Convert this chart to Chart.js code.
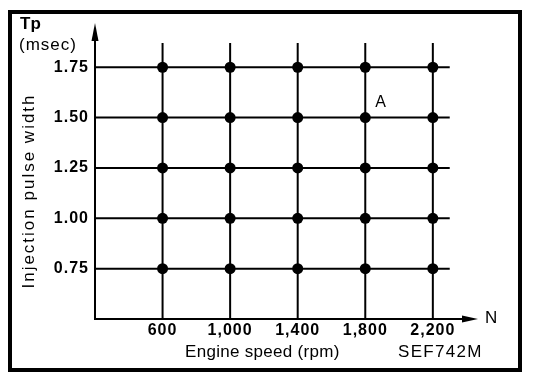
<!DOCTYPE html>
<html><head><meta charset="utf-8">
<script src="https://cdn.jsdelivr.net/npm/chart.js@4/dist/chart.umd.min.js"></script>
<style>html,body{margin:0;padding:0;background:#fff}#wrap{width:560px;height:386px;position:relative}</style>
</head><body><div id="wrap"><canvas id="c" width="560" height="386"></canvas></div>
<script>
// ---- data ----
const engineSpeeds = [600, 1000, 1400, 1800, 2200];          // rpm (grid columns)
const pulseWidths = [0.75, 1.00, 1.25, 1.50, 1.75];          // msec (grid rows)
const xTickLabels = ['600', '1,000', '1,400', '1,800', '2,200'];
const yTickLabels = ['0.75', '1.00', '1.25', '1.50', '1.75'];
const rowLineRange = [200, 2300];   // rpm extent of the horizontal lines
const colLineRange = [0.5, 1.87];   // msec extent of the vertical lines
const markedPoint = { x: 1800, y: 1.50, label: 'A' };
const xTitle = 'Engine speed (rpm)';
const yTitle = 'Injection pulse width';
const figureCode = 'SEF742M';

// ---- build datasets ----
const datasets = [];
pulseWidths.forEach(tp => datasets.push({
  data: [{ x: rowLineRange[0], y: tp }, { x: rowLineRange[1], y: tp }],
  showLine: true, pointRadius: 0, borderColor: '#000', borderWidth: 2, order: 2
}));
engineSpeeds.forEach(n => datasets.push({
  data: [{ x: n, y: colLineRange[0] }, { x: n, y: colLineRange[1] }],
  showLine: true, pointRadius: 0, borderColor: '#000', borderWidth: 2, order: 2
}));
const pts = [];
engineSpeeds.forEach(n => pulseWidths.forEach(tp => pts.push({ x: n, y: tp })));
datasets.push({
  data: pts, showLine: false, pointRadius: 5.5, pointBackgroundColor: '#000',
  pointBorderColor: '#000', pointBorderWidth: 0, order: 1
});

const FONT = '"Liberation Sans", Arial, sans-serif';
const tickFont = { family: FONT, weight: 'bold', size: 16, lineHeight: 1 };

const spacing = {
  id: 'spacing',
  beforeDraw(chart) { chart.ctx.letterSpacing = '1px'; },
  afterDraw(chart) { chart.ctx.letterSpacing = '0px'; }
};

const decor = {
  id: 'decor',
  afterDraw(chart) {
    const { ctx, chartArea: a, scales } = chart;
    const xs = scales.x, ys = scales.y;
    ctx.save();
    ctx.letterSpacing = '0px';
    ctx.fillStyle = '#000'; ctx.strokeStyle = '#000';
    // frame
    ctx.lineWidth = 4;
    ctx.strokeRect(10, 12, 510, 358);
    // y arrow head
    ctx.beginPath();
    ctx.moveTo(a.left, a.top - 6);
    ctx.lineTo(a.left - 3.5, a.top + 12);
    ctx.lineTo(a.left + 3.5, a.top + 12);
    ctx.closePath(); ctx.fill();
    // x arrow head
    ctx.beginPath();
    ctx.moveTo(a.right + 8, a.bottom);
    ctx.lineTo(a.right - 8, a.bottom - 3.5);
    ctx.lineTo(a.right - 8, a.bottom + 3.5);
    ctx.closePath(); ctx.fill();
    // axis names
    ctx.textBaseline = 'alphabetic';
    ctx.textAlign = 'left';
    ctx.font = 'bold 17px ' + FONT;
    ctx.fillText('Tp', 20, 29);
    ctx.font = '17px ' + FONT;
    ctx.letterSpacing = '1px';
    ctx.fillText('(msec)', 19, 50);
    ctx.letterSpacing = '0px';
    ctx.fillText('N', a.right + 15, a.bottom + 4);
    ctx.font = '16px ' + FONT;
    ctx.fillText(markedPoint.label, xs.getPixelForValue(markedPoint.x) + 10, ys.getPixelForValue(markedPoint.y) - 11);
    ctx.font = '17px ' + FONT;
    ctx.letterSpacing = '0.3px';
    ctx.fillText(xTitle, 185, 357);
    ctx.letterSpacing = '1.3px';
    ctx.fillText(figureCode, 398, 357);
    // y title
    ctx.letterSpacing = '2px';
    ctx.translate(34, 191);
    ctx.rotate(-Math.PI / 2);
    ctx.textAlign = 'center';
    ctx.fillText(yTitle, 0, 0);
    ctx.restore();
  }
};

new Chart(document.getElementById('c'), {
  type: 'scatter',
  data: { datasets },
  options: {
    responsive: false, animation: false, devicePixelRatio: 1,
    layout: { padding: { top: 29, right: 90, bottom: 0, left: 0 } },
    plugins: { legend: { display: false }, tooltip: { enabled: false } },
    scales: {
      x: {
        type: 'linear', min: 200, max: 2420,
        afterBuildTicks: s => { s.ticks = engineSpeeds.map(v => ({ value: v })); },
        afterFit: s => { s.height = 67; },
        ticks: {
          callback: v => xTickLabels[engineSpeeds.indexOf(v)],
          font: tickFont, color: '#000', padding: 4, maxRotation: 0, autoSkip: false
        },
        grid: { display: false, drawTicks: false },
        border: { display: true, color: '#000', width: 2 }
      },
      y: {
        type: 'linear', min: 0.5, max: 1.94,
        afterBuildTicks: s => { s.ticks = pulseWidths.map(v => ({ value: v })); },
        afterFit: s => { s.width = 95; },
        ticks: {
          callback: v => yTickLabels[pulseWidths.indexOf(v)],
          font: tickFont, color: '#000', padding: 6, autoSkip: false
        },
        grid: { display: false, drawTicks: false },
        border: { display: true, color: '#000', width: 2 }
      }
    }
  },
  plugins: [spacing, decor]
});
</script>
</body></html>
